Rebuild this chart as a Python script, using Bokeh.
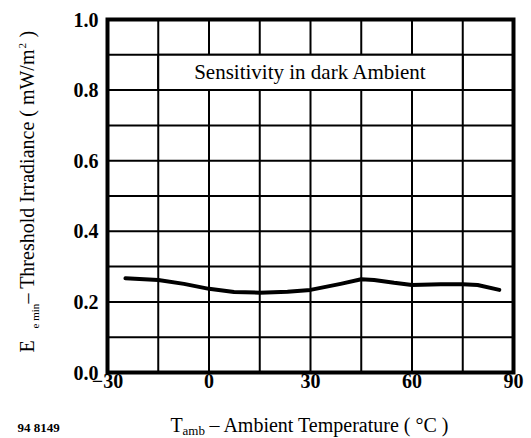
import math
from bokeh.plotting import figure
from bokeh.models import Range1d
from bokeh.embed import file_html
from bokeh.resources import INLINE

# ---- data ----
temp_c = [-24.7, -15, -7.4, 0, 7.4, 15, 23.2, 30, 38.9, 45, 48.8, 54.7, 60, 68.5, 75, 79.4, 85.8]
e_min = [0.267, 0.262, 0.251, 0.237, 0.228, 0.226, 0.229, 0.234, 0.251, 0.264, 0.262, 0.254, 0.248, 0.250, 0.250, 0.248, 0.234]

x_ticks = [-30, 0, 30, 60, 90]
y_ticks = [0.0, 0.2, 0.4, 0.6, 0.8, 1.0]
x_grid = [-30, -15, 0, 15, 30, 45, 60, 75, 90]
y_grid = [0.0, 0.1, 0.2, 0.3, 0.4, 0.5, 0.6, 0.7, 0.8, 0.9, 1.0]
x_tick_labels = ["\u221230", "0", "30", "60", "90"]
y_tick_labels = ["0.0", "0.2", "0.4", "0.6", "0.8", "1.0"]

x_lim = [-30, 90]
y_lim = [0.0, 1.0]
box_x = [-15, 75]
box_y = [0.8, 0.9]
box_text = "Sensitivity in dark Ambient"

FONT = "Liberation Serif"
W, H = 531, 438
FL, FR, FT, FB = 107, 513, 19, 372   # plotting-area edges in canvas pixels

# ranges chosen so that the data area sits at FL..FR / FT..FB while the frame fills the canvas
kx = (x_lim[1] - x_lim[0]) / (FR - FL)
ky = (y_lim[1] - y_lim[0]) / (FB - FT)
x0 = x_lim[0] - FL * kx
y1 = y_lim[1] + FT * ky
x_range = Range1d(x0, x_lim[1] + (W - FR) * kx)
y_range = Range1d(y_lim[0] - (H - FB) * ky, y1)

p = figure(width=W, height=H, output_backend="svg", toolbar_location=None,
           x_range=x_range, y_range=y_range, x_axis_type=None, y_axis_type=None,
           min_border=0)
p.title.visible = False
p.outline_line_color = None
p.background_fill_color = "white"
p.border_fill_color = "white"
p.grid.visible = False

# grid lines
p.segment(x0=x_grid, x1=x_grid, y0=[y_lim[0]] * len(x_grid), y1=[y_lim[1]] * len(x_grid),
          line_color="black", line_width=2)
p.segment(x0=[x_lim[0]] * len(y_grid), x1=[x_lim[1]] * len(y_grid), y0=y_grid, y1=y_grid,
          line_color="black", line_width=2)

# annotation box
p.quad(left=[box_x[0]], right=[box_x[1]], bottom=[box_y[0]], top=[box_y[1]],
       fill_color="white", line_color="black", line_width=2)
p.text(x=[(box_x[0] + box_x[1]) / 2], y=[(box_y[0] + box_y[1]) / 2], text=[box_text],
       text_align="center", text_baseline="middle", text_font={"value": FONT},
       text_font_size="21px", text_color="black")

# plot border
p.quad(left=[x_lim[0]], right=[x_lim[1]], bottom=[y_lim[0]], top=[y_lim[1]],
       fill_color=None, line_color="black", line_width=4, line_join="miter")

# curve
p.line(temp_c, e_min, line_color="black", line_width=4, line_cap="round", line_join="round")

# tick labels
p.text(x=x_ticks, y=[y_lim[0]] * len(x_ticks), text=x_tick_labels, y_offset=8,
       text_align="center", text_baseline="middle", text_font={"value": FONT},
       text_font_style="bold", text_font_size="20px", text_color="black")
p.text(x=[x_lim[0]] * len(y_ticks), y=y_ticks, text=y_tick_labels, x_offset=-9,
       text_align="right", text_baseline="middle", text_font={"value": FONT},
       text_font_style="bold", text_font_size="20px", text_color="black")

MID = 0.3375  # distance from baseline to em-box middle, in em


def ptext(px, py, text, size, angle=0.0, style="normal"):
    # px, py: canvas pixel position (from top-left) of the start of the text baseline
    if angle:
        mx, my = px - MID * size, py
    else:
        mx, my = px, py - MID * size
    p.text(x=[x0 + mx * kx], y=[y1 - my * ky], text=[text], angle=angle,
           text_align="left", text_baseline="middle", text_font={"value": FONT},
           text_font_size=f"{size}px", text_font_style=style, text_color="black")


# x-axis title
ptext(170, 431, "T", 20)
ptext(182, 434, "amb", 13)
ptext(209, 431, "\u2013 Ambient Temperature ( \u00b0C )", 20)

# y-axis title (rotated)
A = math.pi / 2
ptext(33, 352, "E", 20, A)
ptext(38, 328, "e min", 11, A)
ptext(33, 303, "\u2013 Threshold Irradiance ( mW/m", 20, A)
ptext(26, 48, "2", 11, A)
ptext(33, 37, " )", 20, A)

# figure id
ptext(17, 431, "94 8149", 13, 0, "bold")

open("out.html", "w").write(file_html(p, INLINE))
